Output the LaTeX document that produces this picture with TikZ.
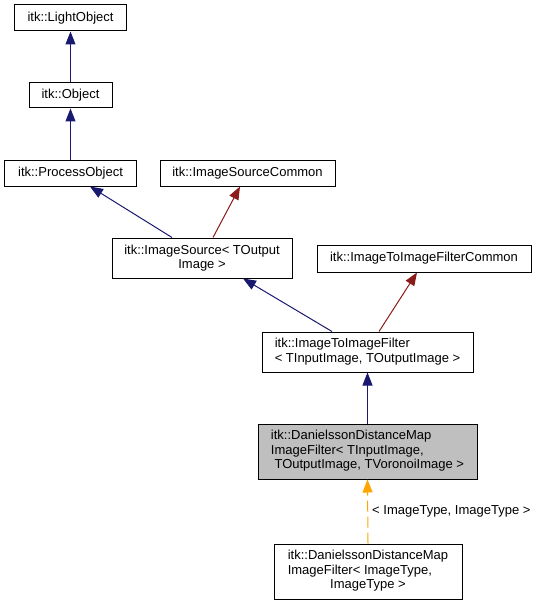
\documentclass[tikz,border=0pt]{standalone}
\usepackage{fontspec}
\setmainfont{Liberation Sans}
\usetikzlibrary{arrows.meta}
\definecolor{edgeblue}{HTML}{191970}
\definecolor{edgered}{HTML}{8B1A1A}
\definecolor{edgeorange}{HTML}{FFA500}
\definecolor{boxgray}{HTML}{BFBFBF}
\newcommand{\dfont}{\fontsize{13bp}{14.5bp}\selectfont}
\tikzset{
  box/.style={draw=black, fill=white, line width=1bp, inner sep=0pt, font=\dfont, align=center},
  inh/.style={draw=edgeblue, line width=1bp, -{Triangle[width=10bp,length=13bp]}},
  inhred/.style={draw=edgered, line width=1bp, -{Triangle[width=10bp,length=13bp]}},
  tmpl/.style={draw=edgeorange, line width=1bp, dash pattern=on 11bp off 5bp, -{Triangle[width=10bp,length=13bp]}},
  lbl/.style={font=\dfont, inner sep=0pt, anchor=west}
}
\begin{document}
\begin{tikzpicture}[x=1bp,y=-1bp]
\useasboundingbox (0,0) rectangle (540,605);
\node[box, minimum width=111bp, minimum height=26bp] (lo) at (70.5,18) {itk::LightObject};
\node[box, minimum width=83bp, minimum height=25bp] (ob) at (70.5,95.5) {itk::Object};
\node[box, minimum width=131bp, minimum height=25bp] (po) at (70.5,173.5) {itk::ProcessObject};
\node[box, minimum width=175bp, minimum height=25bp] (isc) at (247.5,173.5) {itk::ImageSourceCommon};
\node[box, minimum width=180bp, minimum height=40bp] (is) at (202,258) {itk::ImageSource< TOutput\\Image >};
\node[box, minimum width=214bp, minimum height=27bp] (itc) at (424,258.5) {itk::ImageToImageFilterCommon};
\node[box, minimum width=211bp, minimum height=40bp] (itf) at (367.5,352) {\begin{tabular}{@{}l@{}}itk::ImageToImageFilter\\< TInputImage, TOutputImage >\end{tabular}};
\node[box, fill=boxgray, minimum width=219bp, minimum height=55bp] (dd) at (367.5,451.5) {\begin{tabular}{@{}l@{}}itk::DanielssonDistanceMap\\ImageFilter< TInputImage,\\\hspace{3.6bp}TOutputImage, TVoronoiImage >\end{tabular}};
\node[box, minimum width=188bp, minimum height=55bp] (ddi) at (368,571.5) {\begin{tabular}{@{}l@{}}itk::DanielssonDistanceMap\\ImageFilter< ImageType,\\\multicolumn{1}{@{}c@{}}{ImageType >}\end{tabular}};
\node[lbl] (tl) at (372,511) {< ImageType, ImageType >};
\draw[inh] (ob.north) -- (lo.south);
\draw[inh] (po.north) -- (ob.south);
\draw[inh] ([xshift=-30bp]is.north) -- ([xshift=19.5bp]po.south);
\draw[inhred] ([xshift=11bp]is.north) -- ([xshift=-7.5bp]isc.south);
\draw[inh] ([xshift=-35.5bp]itf.north) -- ([xshift=41bp]is.south);
\draw[inhred] ([xshift=11.5bp]itf.north) -- ([xshift=-7bp]itc.south);
\draw[inh] (dd.north) -- (itf.south);
\draw[tmpl] (ddi.north) -- (dd.south);
\end{tikzpicture}
\end{document}
